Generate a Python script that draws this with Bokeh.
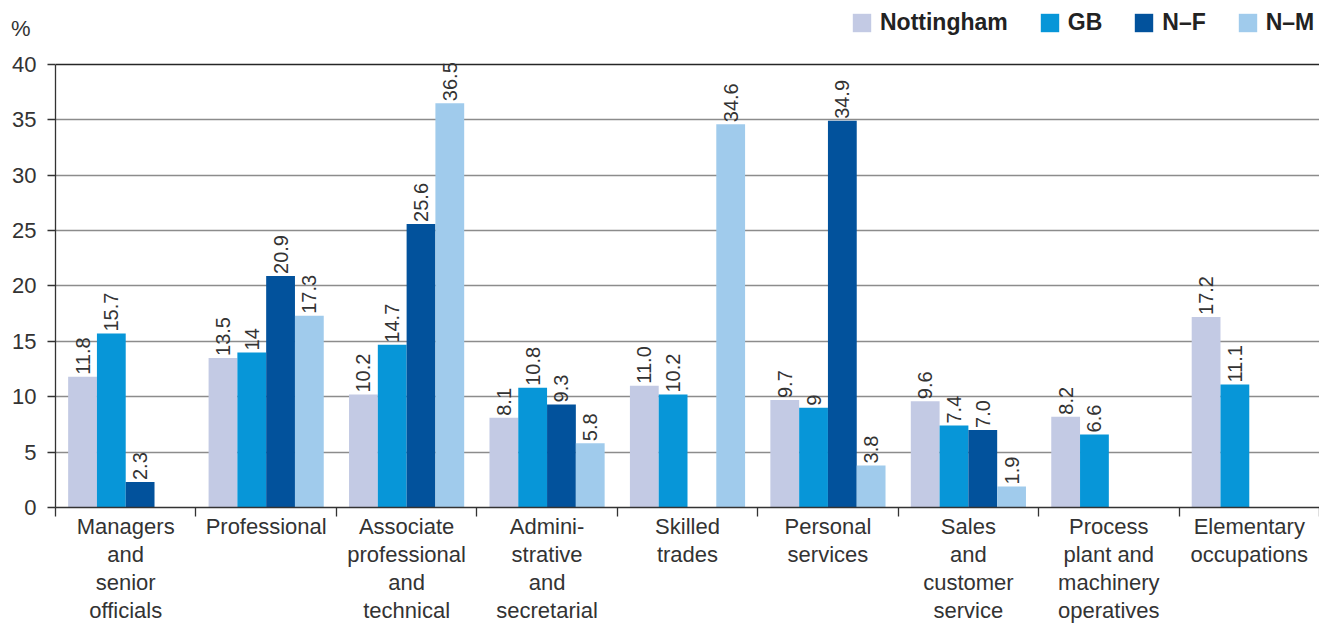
import math
import numpy as np
from bokeh.plotting import figure
from bokeh.models import (ColumnDataSource, Range1d, FixedTicker, Grid, LinearAxis,
                          Legend, LegendItem)
from bokeh.transform import dodge
from bokeh.core.properties import value
from bokeh.embed import file_html
from bokeh.resources import INLINE

categories = ["Managers\nand\nsenior\nofficials", "Professional",
              "Associate\nprofessional\nand\ntechnical", "Admini-\nstrative\nand\nsecretarial",
              "Skilled\ntrades", "Personal\nservices", "Sales\nand\ncustomer\nservice",
              "Process\nplant and\nmachinery\noperatives", "Elementary\noccupations"]
series_names = ["Nottingham", "GB", "N\u2013F", "N\u2013M"]
nottingham = [11.8, 13.5, 10.2, 8.1, 11.0, 9.7, 9.6, 8.2, 17.2]
gb = [15.7, 14, 14.7, 10.8, 10.2, 9, 7.4, 6.6, 11.1]
nf = [2.3, 20.9, 25.6, 9.3, None, 34.9, 7.0, None, None]
nm = [None, 17.3, 36.5, 5.8, 34.6, 3.8, 1.9, None, None]
nott_labels = ["11.8", "13.5", "10.2", "8.1", "11.0", "9.7", "9.6", "8.2", "17.2"]
gb_labels = ["15.7", "14", "14.7", "10.8", "10.2", "9", "7.4", "6.6", "11.1"]
nf_labels = ["2.3", "20.9", "25.6", "9.3", "", "34.9", "7.0", "", ""]
nm_labels = ["", "17.3", "36.5", "5.8", "34.6", "3.8", "1.9", "", ""]
y_ticks = [0, 5, 10, 15, 20, 25, 30, 35, 40]
y_max = 40
unit_label = "%"

colors = ["#c3cae4", "#0796d8", "#02529c", "#a0cbec"]
FONT = value("Liberation Sans")
TXT = "#333333"
DARK = "#262626"

# frame spans from the canvas top down to the x axis; 40 sits 64px below the top
PX_PER_UNIT = 11.1
FRAME_H = 625 - 117
y_top = FRAME_H / PX_PER_UNIT
unit_pos = y_max + 3.2

p = figure(width=1319, height=625, x_range=Range1d(0, len(categories)),
           y_range=Range1d(0, y_top), output_backend="svg", toolbar_location=None,
           min_border_left=55, min_border_right=0, min_border_top=0, min_border_bottom=117)
p.outline_line_color = None
p.xgrid.visible = False
p.ygrid.grid_line_color = "#8c8c8c"
p.ygrid.grid_line_width = 1.3
p.ygrid.ticker = FixedTicker(ticks=[t for t in y_ticks if 0 < t < y_max])
top_grid = Grid(dimension=1, ticker=FixedTicker(ticks=[y_max]),
                grid_line_color=DARK, grid_line_width=1.3)
p.add_layout(top_grid)

centers = [i + 0.5 for i in range(len(categories))]
bounds = [float(i) for i in range(len(categories) + 1)]

bw = 0.205
offsets = [-1.5 * bw, -0.5 * bw, 0.5 * bw, 1.5 * bw]
all_vals = [nottingham, gb, nf, nm]
all_labels = [nott_labels, gb_labels, nf_labels, nm_labels]

renderers = []
for vals, labs, off, col in zip(all_vals, all_labels, offsets, colors):
    tops = [np.nan if v is None else v for v in vals]
    src = ColumnDataSource(dict(x=centers, top=tops))
    r = p.vbar(x=dodge("x", off, range=p.x_range), top="top", width=bw, bottom=0,
               fill_color=col, line_color=None, source=src)
    renderers.append(r)
    keep = [i for i, v in enumerate(vals) if v is not None]
    lsrc = ColumnDataSource(dict(x=[centers[i] for i in keep], y=[vals[i] for i in keep],
                                 t=[labs[i] for i in keep]))
    p.text(x=dodge("x", off, range=p.x_range), y="y", text="t", source=lsrc,
           angle=math.pi / 2, text_align="left", text_baseline="middle", y_offset=-2,
           text_font=FONT, text_font_size="20px", text_color=TXT)

# x axis
xa = p.xaxis[0]
xa.ticker = FixedTicker(ticks=centers, minor_ticks=bounds)
xa.major_label_overrides = {c: lab for c, lab in zip(centers, categories)}
xa.major_tick_out = 0
xa.major_tick_in = 0
xa.minor_tick_out = 9
xa.minor_tick_in = 0
xa.minor_tick_line_color = "#333333"
xa.minor_tick_line_width = 1.3
xa.axis_line_color = "#333333"
xa.axis_line_width = 1.3
xa.major_label_standoff = -3
xa.major_label_text_font = "Liberation Sans"
xa.major_label_text_font_size = "22px"
xa.major_label_text_color = TXT
xa.major_label_text_line_height = 1.12

# y axis
ya = p.yaxis[0]
ya.ticker = FixedTicker(ticks=y_ticks)
ya.bounds = (0, y_max)
ya.major_tick_out = 8
ya.major_tick_in = 0
ya.minor_tick_out = 0
ya.minor_tick_in = 0
ya.major_tick_line_color = "#333333"
ya.major_tick_line_width = 1.3
ya.axis_line_color = "#333333"
ya.axis_line_width = 1.3
ya.major_label_standoff = 11
ya.major_label_text_font = "Liberation Sans"
ya.major_label_text_font_size = "22px"
ya.major_label_text_color = TXT

# unit label "%" as an outer, line-less axis
unit_axis = LinearAxis(ticker=FixedTicker(ticks=[unit_pos]),
                       major_label_overrides={unit_pos: unit_label},
                       axis_line_color=None, major_tick_line_color=None,
                       minor_tick_line_color=None, major_tick_out=0, major_tick_in=0,
                       minor_tick_out=0, minor_tick_in=0, major_label_standoff=-21,
                       major_label_text_font="Liberation Sans",
                       major_label_text_font_size="22px", major_label_text_color=TXT)
p.add_layout(unit_axis, "left")

legend = Legend(items=[LegendItem(label=n, renderers=[r]) for n, r in zip(series_names, renderers)],
                orientation="horizontal", location=(795, FRAME_H - 37), glyph_width=23, glyph_height=23,
                label_standoff=7, spacing=30, padding=0, margin=0, border_line_color=None,
                background_fill_alpha=0, label_text_font="Liberation Sans",
                label_text_font_size="23px", label_text_font_style="bold",
                label_text_color="#222222")
p.add_layout(legend, "center")

open("out.html", "w").write(file_html(p, INLINE))
